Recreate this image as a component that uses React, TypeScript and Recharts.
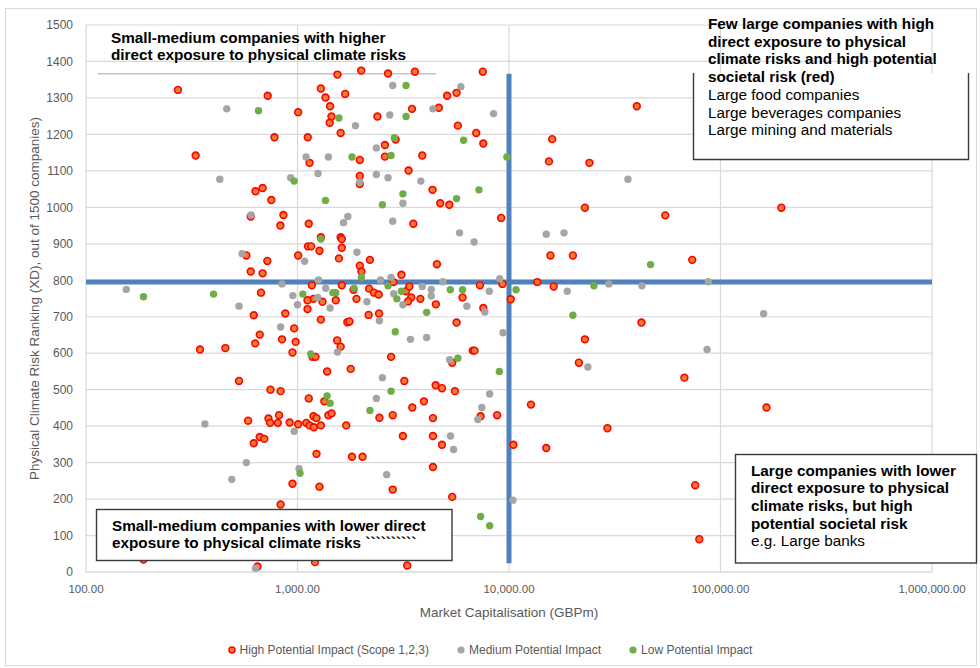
import {
  CartesianGrid,
  Label,
  Legend,
  ReferenceLine,
  Scatter,
  ScatterChart,
  XAxis,
  YAxis,
} from 'recharts';

// [market cap (GBPm), physical climate risk ranking]
const highImpact: [number, number][] = [
  [272, 1322], [723, 1306], [1007, 1261], [778, 1192], [330, 1142], [633, 1044], [684, 1053], [752, 1020],
  [601, 975], [858, 979], [830, 950], [573, 868], [720, 853], [1007, 868], [601, 824], [684, 819], [672, 766],
  [621, 704], [876, 709], [964, 668], [663, 651], [845, 638], [980, 631], [631, 627], [346, 610], [456, 614],
  [947, 602], [529, 524], [745, 500], [832, 496], [584, 415], [729, 421], [742, 409], [818, 430], [807, 409],
  [918, 410], [1007, 405], [663, 370], [697, 365], [621, 353], [947, 242], [832, 185], [187, 34], [647, 15],
  [1545, 1364], [2000, 1375], [2680, 1367], [3590, 1372], [7520, 1372], [1290, 1326], [1680, 1311], [1356, 1301],
  [5650, 1314], [5100, 1306], [1426, 1277], [1447, 1249], [1420, 1232], [2386, 1249], [3480, 1270], [4660, 1273],
  [1600, 1204], [5730, 1224], [1118, 1192], [2910, 1186], [7000, 1204], [7560, 1175], [2590, 1171], [1970, 1130],
  [2590, 1139], [3890, 1142], [1140, 1122], [1970, 1086], [1970, 1064], [3350, 1101], [4350, 1048], [4730, 1011],
  [5220, 1007], [1130, 955], [3530, 955], [9180, 971], [1290, 918], [1600, 918], [1620, 913], [1120, 893],
  [1160, 893], [1270, 881], [1620, 889], [1570, 860], [2200, 856], [1970, 840], [2005, 824], [3100, 815],
  [4560, 844], [9310, 790], [2840, 795],
  [1170, 786], [1620, 786], [1840, 774], [2180, 777], [2300, 766], [2420, 761], [3260, 770], [3380, 783],
  [3450, 753], [3330, 742], [3810, 749], [6030, 753], [7290, 786], [10190, 748], [4510, 734], [7560, 724],
  [1900, 749], [1517, 745], [1312, 741], [1190, 749], [1115, 745], [1115, 721], [2170, 705], [2430, 709],
  [1720, 685], [1760, 687], [1290, 692], [5650, 684], [1540, 635], [1600, 618], [1177, 590], [1216, 590],
  [2770, 590], [1380, 550], [1785, 557], [6740, 607], [6870, 607], [5390, 574],
  [3200, 524], [1130, 476], [1340, 468], [4500, 512], [4820, 504], [5550, 496], [3960, 468], [3490, 451],
  [2440, 423], [2820, 430], [1400, 430], [1450, 435], [7340, 427], [8790, 430], [4370, 422], [1100, 409],
  [1140, 402], [1190, 427], [1230, 422], [1195, 397], [1290, 402], [1700, 402], [3150, 373], [4370, 373],
  [4820, 349], [1230, 324], [1810, 316], [2030, 316], [4370, 288], [1270, 234], [2820, 226], [5390, 206],
  [1210, 27], [3300, 18], [10490, 349],
  [40200, 1277], [16000, 1187], [15450, 1126], [24000, 1122], [22850, 999], [194000, 999], [54800, 978],
  [15700, 868], [20050, 868], [73500, 856], [13600, 795], [16270, 783], [42300, 684], [22850, 638],
  [21400, 574], [67500, 533], [12700, 459], [165000, 451], [29200, 394], [15000, 340], [75900, 238], [79400, 90],
];

const mediumImpact: [number, number][] = [
  [463, 1270], [429, 1077], [928, 1081], [603, 979], [547, 873], [155, 775], [845, 790], [950, 758],
  [1000, 733], [529, 729], [832, 672], [365, 406], [964, 386], [573, 300], [489, 254], [1017, 283], [633, 10],
  [2820, 1334], [5920, 1331], [2730, 1253], [4370, 1270], [8450, 1257], [1880, 1224], [2360, 1163], [1098, 1138],
  [1400, 1138], [1250, 1093], [1970, 1069], [2360, 1090], [2680, 1081], [3830, 1072], [3150, 1011], [1650, 958],
  [1730, 975], [2820, 962], [5840, 930], [6840, 905], [1080, 852], [1910, 877], [9040, 804], [1257, 801],
  [2470, 801], [2770, 808], [4870, 796],
  [3890, 783], [4290, 775], [4290, 757], [2850, 763], [3150, 733], [2130, 741], [1360, 778], [1247, 753],
  [1426, 724], [2440, 689], [6320, 729], [8070, 770], [7690, 713], [3420, 638], [4080, 643], [1545, 603],
  [5240, 582], [9370, 656],
  [2520, 533], [2360, 476], [8100, 488], [7440, 451], [7120, 418], [5290, 373], [5470, 336], [2640, 267],
  [10440, 197],
  [36500, 1077], [15000, 926], [18200, 930], [18860, 770], [29650, 790], [42500, 785], [87600, 796],
  [160000, 708], [86400, 610], [23600, 562],
];

const lowImpact: [number, number][] = [
  [654, 1265], [964, 1072], [187, 755], [401, 762], [1028, 271],
  [3260, 1334], [1570, 1245], [3260, 1249], [2870, 1191], [6100, 1184], [1810, 1138], [2770, 1142], [9770, 1138],
  [3150, 1037], [2520, 1007], [1356, 1019], [5650, 1024], [7210, 1048], [1290, 913], [2005, 808],
  [1850, 778], [1517, 766], [1470, 766], [1060, 762], [2680, 785], [3100, 770], [2950, 749], [4080, 712],
  [2900, 659], [5280, 774], [6030, 774], [5730, 586], [1155, 598], [9000, 550],
  [1380, 483], [1426, 463], [2770, 496], [2200, 443], [7340, 152], [8100, 127],
  [10800, 774], [25200, 785], [46700, 843], [20050, 704],
];

const xTicks = [100, 1000, 10000, 100000, 1000000];
const yTicks = [0, 100, 200, 300, 400, 500, 600, 700, 800, 900, 1000, 1100, 1200, 1300, 1400, 1500];

// quadrant dividers
const capSplit = 10000;
const rankSplit = 795;
const splitTop = 1366;
const splitBottom = 24;

const FONT = '"Liberation Sans", Arial, sans-serif';
const GREY_TEXT = '#595959';

const toPoints = (rows: [number, number][]) => rows.map(([cap, rank]) => ({ cap, rank }));

const HighDot = (p: any) => (
  <circle cx={p.cx} cy={p.cy} r={3.4} fill="#ed7d31" stroke="#ff0000" strokeWidth={1.6} />
);
const MediumDot = (p: any) => <circle cx={p.cx} cy={p.cy} r={3.7} fill="#a5a5a5" />;
const LowDot = (p: any) => <circle cx={p.cx} cy={p.cy} r={3.7} fill="#70ad47" />;

const legendItems = [
  { name: 'High Potential Impact (Scope 1,2,3)', fill: '#ed7d31', stroke: '#ff0000' },
  { name: 'Medium Potential Impact', fill: '#a5a5a5' },
  { name: 'Low Potential Impact', fill: '#70ad47' },
];

function renderLegend() {
  return (
    <div style={{ display: 'flex', justifyContent: 'center', gap: 28, fontFamily: FONT, fontSize: 12, color: GREY_TEXT, lineHeight: '18px' }}>
      {legendItems.map((it) => (
        <span key={it.name} style={{ display: 'flex', alignItems: 'center', gap: 4 }}>
          <svg width={8} height={8}>
            <circle cx={4} cy={4} r={it.stroke ? 3 : 3.6} fill={it.fill} stroke={it.stroke} strokeWidth={it.stroke ? 1.4 : 0} />
          </svg>
          {it.name}
        </span>
      ))}
    </div>
  );
}

const fmtCap = (v: number) => v.toLocaleString('en-US', { minimumFractionDigits: 2, maximumFractionDigits: 2 });

function Notes() {
  const bold = { fontFamily: FONT, fontSize: 15.3, fontWeight: 700, fill: '#000' } as const;
  const plain = { fontFamily: FONT, fontSize: 15.3, fill: '#000' } as const;
  return (
    <svg width={980} height={668} style={{ position: 'absolute', left: 0, top: 0, pointerEvents: 'none' }}>
      <rect x={5.5} y={8.5} width={971} height={657} fill="none" stroke="#d9d9d9" />

      <text {...bold}>
        <tspan x={111} y={43}>Small-medium companies with higher</tspan>
        <tspan x={111} y={60}>direct exposure to physical climate risks</tspan>
      </text>

      <rect x={693} y={73} width={276} height={87} fill="#fff" />
      <path d="M693.5 73 V159.5 H968.5 V73" fill="none" stroke="#3a3a3a" strokeWidth={1.4} />
      <text {...bold}>
        <tspan x={708} y={29}>Few large companies with high</tspan>
        <tspan x={708} y={46.7}>direct exposure to physical</tspan>
        <tspan x={708} y={64.4}>climate risks and high potential</tspan>
        <tspan x={708} y={82.1}>societal risk (red)</tspan>
      </text>
      <text {...plain}>
        <tspan x={708} y={99.8}>Large food companies</tspan>
        <tspan x={708} y={117.5}>Large beverages companies</tspan>
        <tspan x={708} y={135.2}>Large mining and materials</tspan>
      </text>

      <rect x={735.5} y={454.5} width={241} height={108.5} fill="#fff" stroke="#3a3a3a" strokeWidth={1.4} />
      <text {...bold}>
        <tspan x={751} y={475.5}>Large companies with lower</tspan>
        <tspan x={751} y={493.2}>direct exposure to physical</tspan>
        <tspan x={751} y={510.9}>climate risks, but high</tspan>
        <tspan x={751} y={528.6}>potential societal risk</tspan>
      </text>
      <text {...plain}>
        <tspan x={751} y={546.3}>e.g. Large banks</tspan>
      </text>

      <rect x={96.5} y={509.5} width={355.5} height={51} fill="#fff" stroke="#3a3a3a" strokeWidth={1.4} />
      <text {...bold}>
        <tspan x={112} y={531.3}>Small-medium companies with lower direct</tspan>
        <tspan x={112} y={548}>{'exposure to physical climate risks ``````````'}</tspan>
      </text>
    </svg>
  );
}

export default function App() {
  return (
    <div style={{ position: 'relative', width: 980, height: 668, background: '#fff', fontFamily: FONT }}>
      <style>{'body{margin:0}'}</style>
      <ScatterChart width={980} height={668} margin={{ top: 25, right: 48, bottom: 46, left: 0 }}>
        <CartesianGrid stroke="#d9d9d9" strokeWidth={1.2} />
        <XAxis
          type="number"
          dataKey="cap"
          scale="log"
          domain={[100, 1000000]}
          ticks={xTicks}
          allowDataOverflow
          height={50}
          tickFormatter={fmtCap}
          tickLine={false}
          tickMargin={7}
          axisLine={{ stroke: '#d9d9d9' }}
          tick={{ fill: GREY_TEXT, fontSize: 11.5, fontFamily: FONT }}
        >
          <Label value="Market Capitalisation (GBPm)" position="insideBottom" offset={5.5} fill={GREY_TEXT} fontSize={13.5} fontFamily={FONT} />
        </XAxis>
        <YAxis
          type="number"
          dataKey="rank"
          domain={[0, 1500]}
          ticks={yTicks}
          width={86}
          tickLine={false}
          tickMargin={7}
          axisLine={false}
          tick={{ fill: GREY_TEXT, fontSize: 12, fontFamily: FONT }}
        >
          <Label
            value="Physical Climate Risk Ranking (XD), out of 1500 companies)"
            angle={-90}
            position="insideLeft"
            offset={34}
            style={{ textAnchor: 'middle' }}
            fill={GREY_TEXT}
            fontSize={13.5}
            fontFamily={FONT}
          />
        </YAxis>
        <Legend
          layout="horizontal"
          align="center"
          verticalAlign="middle"
          content={renderLegend}
          wrapperStyle={{ top: 641, left: 0, width: 980 }}
        />
        <Scatter name="High Potential Impact (Scope 1,2,3)" data={toPoints(highImpact)} fill="#ed7d31" shape={HighDot} isAnimationActive={false} />
        <Scatter name="Medium Potential Impact" data={toPoints(mediumImpact)} fill="#a5a5a5" shape={MediumDot} isAnimationActive={false} />
        <Scatter name="Low Potential Impact" data={toPoints(lowImpact)} fill="#70ad47" shape={LowDot} isAnimationActive={false} />
        <ReferenceLine
          segment={[{ x: 114, y: splitTop }, { x: 4530, y: splitTop }]}
          stroke="#a6a6a6"
          strokeWidth={1}
        />
        <ReferenceLine
          segment={[{ x: 100, y: rankSplit }, { x: 1000000, y: rankSplit }]}
          stroke="#4f81bd"
          strokeWidth={5}
        />
        <ReferenceLine
          segment={[{ x: capSplit, y: splitBottom }, { x: capSplit, y: splitTop }]}
          stroke="#4f81bd"
          strokeWidth={5}
        />
      </ScatterChart>
      <Notes />
    </div>
  );
}
